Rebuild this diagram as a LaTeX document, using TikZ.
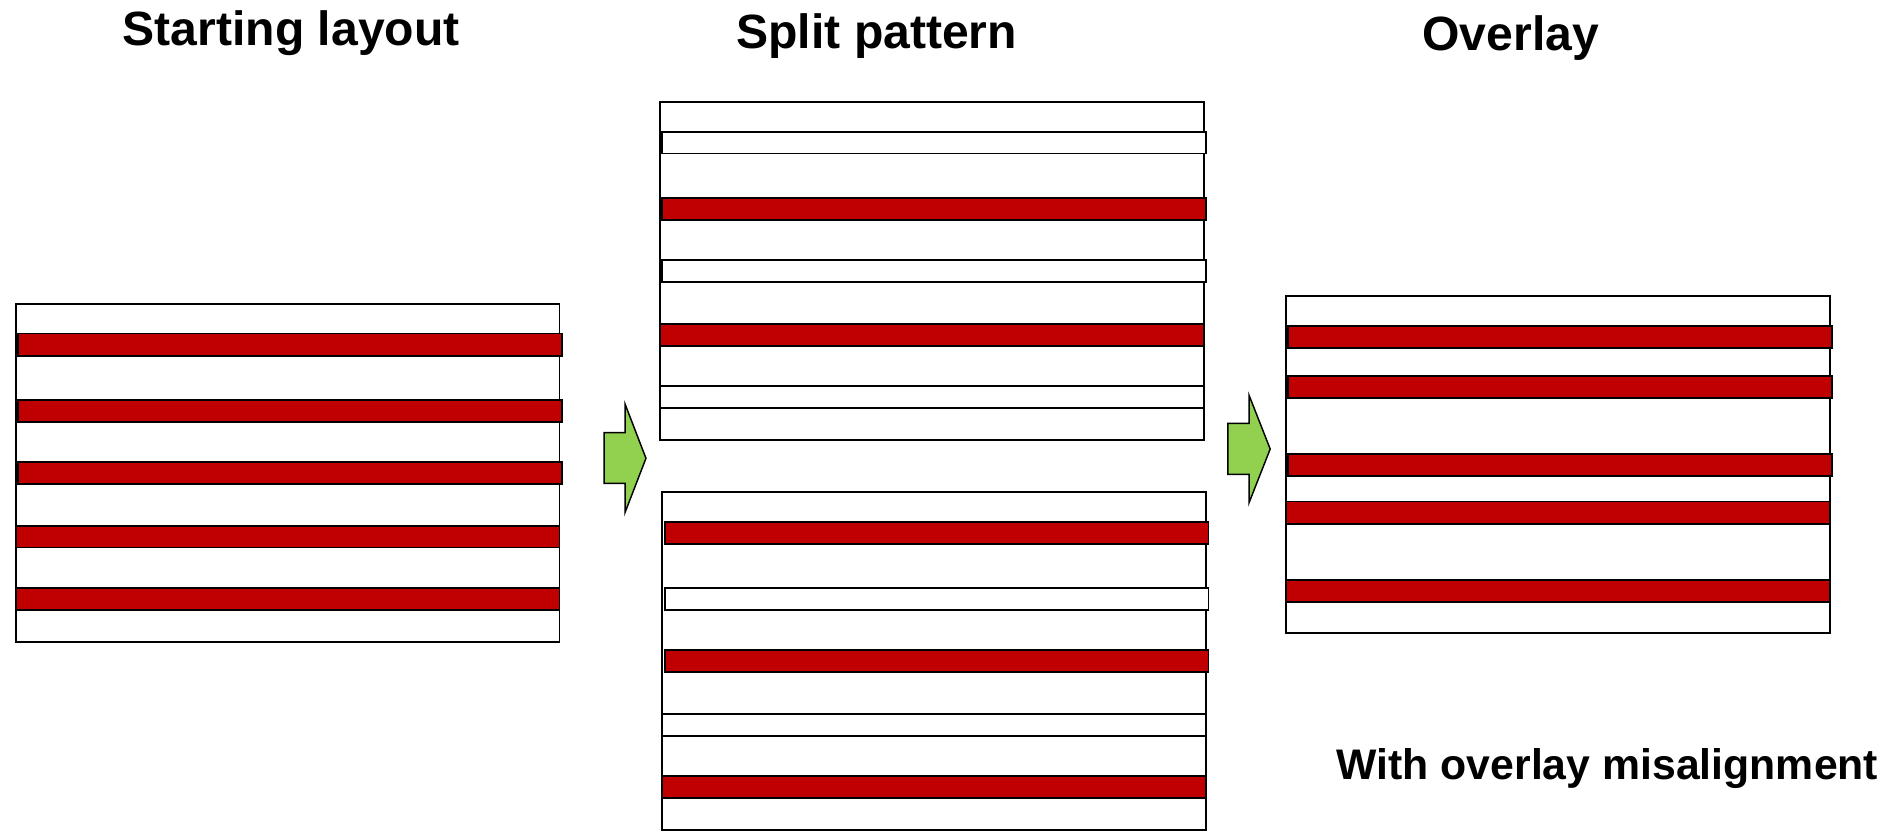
\documentclass[tikz,border=0pt]{standalone}
\usepackage{fontspec}
\setmainfont{Liberation Sans}
\definecolor{barred}{RGB}{192,0,0}
\definecolor{arrowgreen}{RGB}{146,208,80}
\begin{document}
\begin{tikzpicture}[x=0.5pt,y=-0.5pt,
  frame/.style={draw=black,line width=0.7pt,fill=white},
  redbar/.style={draw=black,line width=0.7pt,fill=barred},
  whitebar/.style={draw=black,line width=0.7pt,fill=white},
  flowarrow/.style={draw=black,line width=0.6pt,fill=arrowgreen,line join=miter},
  title/.style={font=\bfseries\fontsize{19.9}{23}\selectfont,anchor=base,inner sep=0pt},
  note/.style={font=\bfseries\fontsize{17.7}{21}\selectfont,anchor=base,inner sep=0pt}]
\useasboundingbox (0,0) rectangle (1568,692);

% titles
\node[title] (t1) at (241,37.5) {Starting layout};
\node[title] (t2) at (725.5,40) {Split pattern};
\node[title] (t3) at (1250,42) {Overlay};
\node[note] (t4) at (1330,645) {With overlay misalignment};

% Panel A: starting layout
\draw[frame] (13,251.5) rectangle (463,531);
\draw[redbar] (15,276) rectangle (465,294.5);
\draw[redbar] (15,331) rectangle (465,349);
\draw[redbar] (15,382.5) rectangle (465,400.5);
\draw[redbar] (13,435.5) rectangle (463,453);
\draw[redbar] (13,486.5) rectangle (463,504.5);

% Panel B top
\draw[frame] (546,84.4) rectangle (996,364);
\draw[whitebar] (548,109) rectangle (998,127);
\draw[redbar] (548,163.6) rectangle (998,181.8);
\draw[whitebar] (548,215) rectangle (998,233.3);
\draw[redbar] (546,268) rectangle (996,286);
\draw[whitebar] (546,319.4) rectangle (996,337.4);

% Panel B bottom
\draw[frame] (548,407) rectangle (998,687);
\draw[redbar] (550,432) rectangle (1000,450);
\draw[whitebar] (550,486.6) rectangle (1000,504.5);
\draw[redbar] (550,538) rectangle (1000,556);
\draw[whitebar] (548,591) rectangle (998,609);
\draw[redbar] (548,642) rectangle (998,660);

% Panel C: overlay
\draw[frame] (1064,245) rectangle (1514,524);
\draw[redbar] (1066,269.5) rectangle (1516,288);
\draw[redbar] (1066,311) rectangle (1516,329.3);
\draw[redbar] (1066,375.4) rectangle (1516,394);
\draw[redbar] (1064,415) rectangle (1514,433.6);
\draw[redbar] (1064,480) rectangle (1514,498);

% arrows
\draw[flowarrow] (499.8,358) -- (517.2,358) -- (517.2,334.3) -- (534.5,379.2)
  -- (517.2,424) -- (517.2,400) -- (499.8,400) -- cycle;
\draw[flowarrow] (1016,350.3) -- (1033.5,350.3) -- (1033.5,327) -- (1051,371.5)
  -- (1033.5,416) -- (1033.5,392.5) -- (1016,392.5) -- cycle;
\end{tikzpicture}
\end{document}
